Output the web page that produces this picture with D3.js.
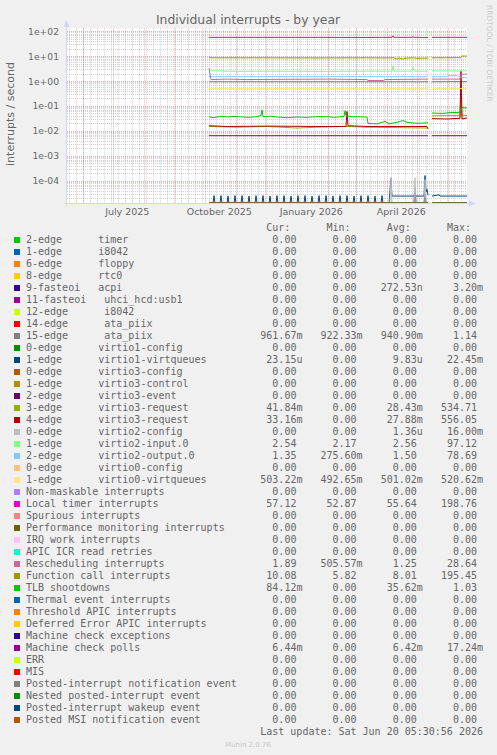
<!DOCTYPE html>
<html lang="en">
<head>
  <meta charset="UTF-8">
  <title>Individual interrupts - by year</title>
  <script src="https://d3js.org/d3.v7.min.js"></script>
  <style>
    body { margin: 0; background: #f0f0f0; }
    text { font-family: "DejaVu Sans", sans-serif; fill: #666; }
    .mono { font-family: "DejaVu Sans Mono", monospace; font-size: 10px; white-space: pre; }
  </style>
</head>
<body>
  <svg id="svg" width="497" height="755"></svg>
  <script>
    // time range (1 px per day, 400 days)
    var startDate = new Date(2025, 4, 16, 5, 30, 56)
    var endDate = new Date(2026, 5, 20, 5, 30, 56)

    var yTicks = [1e2, 1e1, 1e0, 1e-1, 1e-2, 1e-3, 1e-4]
    var yTickLabels = ['1e+02', '1e+01', '1e+00', '1e-01', '1e-02', '1e-03', '1e-04']
    var xLabelDates = ['2025-07-15', '2025-10-15', '2026-01-15', '2026-04-15']
    var xLabels = ['July 2025', 'October 2025', 'January 2026', 'April 2026']

    // legend
    var names = [
      '2-edge      timer', '1-edge      i8042', '6-edge      floppy', '8-edge      rtc0',
      '9-fasteoi   acpi', '11-fasteoi   uhci_hcd:usb1', '12-edge      i8042', '14-edge      ata_piix',
      '15-edge      ata_piix', '0-edge      virtio1-config', '1-edge      virtio1-virtqueues',
      '0-edge      virtio3-config', '1-edge      virtio3-control', '2-edge      virtio3-event',
      '3-edge      virtio3-request', '4-edge      virtio3-request', '0-edge      virtio2-config',
      '1-edge      virtio2-input.0', '2-edge      virtio2-output.0', '0-edge      virtio0-config',
      '1-edge      virtio0-virtqueues', 'Non-maskable interrupts', 'Local timer interrupts',
      'Spurious interrupts', 'Performance monitoring interrupts', 'IRQ work interrupts',
      'APIC ICR read retries', 'Rescheduling interrupts', 'Function call interrupts',
      'TLB shootdowns', 'Thermal event interrupts', 'Threshold APIC interrupts',
      'Deferred Error APIC interrupts', 'Machine check exceptions', 'Machine check polls',
      'ERR', 'MIS', 'Posted-interrupt notification event', 'Nested posted-interrupt event',
      'Posted-interrupt wakeup event', 'Posted MSI notification event'
    ]
    var colors = [
      '#00CC00', '#0066B3', '#FF8000', '#FFCC00', '#330099', '#990099', '#CCFF00', '#FF0000',
      '#808080', '#008F00', '#00487D', '#B35A00', '#B38F00', '#6B006B', '#8FB300', '#B30000',
      '#BEBEBE', '#80FF80', '#80C9FF', '#FFC080', '#FFE680', '#AA80FF', '#EE00CC', '#FF8080',
      '#666600', '#FFBFFF', '#00FFCC', '#CC6699', '#999900', '#00CC00', '#0066B3', '#FF8000',
      '#FFCC00', '#330099', '#990099', '#CCFF00', '#FF0000', '#808080', '#008F00', '#00487D',
      '#B35A00'
    ]
    var cur = ['0.00', '0.00', '0.00', '0.00', '0.00', '0.00', '0.00', '0.00', '961.67m', '0.00',
      '23.15u', '0.00', '0.00', '0.00', '41.84m', '33.16m', '0.00', '2.54', '1.35', '0.00',
      '503.22m', '0.00', '57.12', '0.00', '0.00', '0.00', '0.00', '1.89', '10.08', '84.12m',
      '0.00', '0.00', '0.00', '0.00', '6.44m', '0.00', '0.00', '0.00', '0.00', '0.00', '0.00']
    var min = ['0.00', '0.00', '0.00', '0.00', '0.00', '0.00', '0.00', '0.00', '922.33m', '0.00',
      '0.00', '0.00', '0.00', '0.00', '0.00', '0.00', '0.00', '2.17', '275.60m', '0.00',
      '492.65m', '0.00', '52.87', '0.00', '0.00', '0.00', '0.00', '505.57m', '5.82', '0.00',
      '0.00', '0.00', '0.00', '0.00', '0.00', '0.00', '0.00', '0.00', '0.00', '0.00', '0.00']
    var avg = ['0.00', '0.00', '0.00', '0.00', '272.53n', '0.00', '0.00', '0.00', '940.90m', '0.00',
      '9.83u', '0.00', '0.00', '0.00', '28.43m', '27.88m', '1.36u', '2.56', '1.50', '0.00',
      '501.02m', '0.00', '55.64', '0.00', '0.00', '0.00', '0.00', '1.25', '8.01', '35.62m',
      '0.00', '0.00', '0.00', '0.00', '6.42m', '0.00', '0.00', '0.00', '0.00', '0.00', '0.00']
    var max = ['0.00', '0.00', '0.00', '0.00', '3.20m', '0.00', '0.00', '0.00', '1.14', '0.00',
      '22.45m', '0.00', '0.00', '0.00', '534.71', '556.05', '16.00m', '97.12', '78.69', '0.00',
      '520.62m', '0.00', '198.76', '0.00', '0.00', '0.00', '0.00', '28.64', '195.45', '1.03',
      '0.00', '0.00', '0.00', '0.00', '17.24m', '0.00', '0.00', '0.00', '0.00', '0.00', '0.00']

    // series: [day since start, value], null = unknown (gap)
    var zeroPts = [[142, 0], [361, 0], null, [365, 0], [400, 0]]
    var localTimerPts = [[142, 57], [200, 57], [300, 56.5], [325, 57], [326, 66], [327, 57], [345, 57], [346, 61], [347, 57], [361, 56.5], null, [365, 57], [400, 57.1]]
    var funcCallPts = [[142, 9.3], [144, 8.6], [200, 8.6], [250, 8.5], [300, 8.6], [325, 8.5], [326, 9.0], [327, 8.4], [330, 7.7], [332, 8.4], [336, 7.6], [338, 8.3], [346, 8.6], [350, 8.2], [361, 8.4], null, [365, 8.6], [393, 8.7], [395, 10.2], [400, 10.1]]
    var inputPts = [[142, 3.3], [144, 2.6], [170, 2.45], [200, 2.5], [260, 2.45], [300, 2.5], [325, 2.5], [326, 4.2], [327, 2.5], [345, 2.5], [346, 3.6], [347, 2.5], [361, 2.5], null, [365, 2.55], [400, 2.54]]
    var outputPts = [[142, 1.5], [359, 1.5], [360, 1.65], [361, 1.55], null, [365, 1.5], [380, 1.5], [381, 1.65], [390, 1.65], [391, 1.5], [400, 1.35]]
    var reschedPts = [[142, 3.2], [144, 1.15], [160, 1.2], [180, 1.15], [220, 1.18], [260, 1.2], [300, 1.15], [301, 1.05], [316, 1.05], [318, 1.15], [361, 1.2], null, [365, 1.2], [393, 1.2], [394, 1.9], [400, 1.89]]
    var ata15Pts = [[142, 0.94], [361, 0.94], null, [365, 0.94], [400, 0.96]]
    var virtio0Pts = [[142, 0.5], [361, 0.5], null, [365, 0.5], [400, 0.503]]
    var tlbPts = [[142, 0.037], [146, 0.034], [150, 0.036], [155, 0.039], [160, 0.036], [167, 0.038], [175, 0.036], [182, 0.035], [190, 0.037], [194, 0.042], [195, 0.07], [196, 0.037], [203, 0.039], [210, 0.036], [220, 0.034], [230, 0.036], [240, 0.035], [250, 0.037], [260, 0.037], [268, 0.035], [277, 0.038], [278, 0.065], [279, 0.04], [285, 0.037], [300, 0.036], [301, 0.02], [310, 0.019], [318, 0.024], [322, 0.019], [330, 0.022], [336, 0.026], [340, 0.022], [350, 0.02], [361, 0.021], null, [365, 0.052], [375, 0.05], [385, 0.055], [392, 0.054], [395, 0.085], [400, 0.084]]
    var req4Pts = [[142, 0.016], [160, 0.015], [200, 0.0155], [250, 0.015], [279, 0.015], [280, 0.06], [281, 0.016], [300, 0.015], [330, 0.015], [360, 0.015], [361, 0.012], null, [365, 0.031], [380, 0.03], [393, 0.032], [394, 2.6], [395, 0.03], [400, 0.033]]
    var req3Pts = [[142, 0.015], [170, 0.014], [200, 0.015], [230, 0.013], [250, 0.014], [280, 0.015], [300, 0.014], [361, 0.013], null, [365, 0.04], [380, 0.041], [393, 0.042], [394, 0.9], [395, 0.04], [400, 0.042]]
    var mcPollPts = [[142, 0.0064], [361, 0.0064], null, [365, 0.0064], [400, 0.0064]]
    var virtio1Spikes = [[147, 2.5e-5], [154, 2.5e-5], [161, 2.4e-5], [168, 2.5e-5], [175, 2.5e-5], [182, 2.4e-5], [189, 2.5e-5], [196, 2.5e-5], [203, 2.4e-5], [210, 2.5e-5], [217, 2.5e-5], [224, 2.4e-5], [231, 2.5e-5], [238, 2.5e-5], [245, 2.4e-5], [252, 2.5e-5], [259, 2.5e-5], [266, 2.4e-5], [273, 2.5e-5], [280, 2.5e-5], [287, 2.4e-5], [294, 2.5e-5], [301, 2.5e-5], [308, 2.4e-5], [315, 2.5e-5]]
    var virtio1Tail = [[322, 0], [324, 1.2e-4], [325, 2.4e-5], [347, 2.4e-5], [348, 3e-5], [349, 2.4e-5], [357, 2.4e-5], [358, 1.6e-4], [359, 3.5e-5], [360, 4.5e-5], [361, 2.6e-5], null, [365, 2.4e-5], [372, 2.7e-5], [373, 2.4e-5], [400, 2.4e-5]]
    var v2cfgPts = [[142, 0], [323, 0], [324, 1.4e-4], [325, 0], [347, 0], [348, 1.3e-4], [349, 0], [357, 0], [358, 1.1e-4], [359, 0], [361, 0], null, [365, 0], [400, 0]]
    var acpiPts = [[142, 0], [347, 0], [348, 5e-5], [349, 0], [357, 0], [358, 3e-5], [359, 0], [361, 0], null, [365, 0], [400, 0]]

    var virtio1Pts = [[142, 0]]
    virtio1Spikes.forEach(function (s) {
      virtio1Pts.push([s[0] - 1, 0], s, [s[0] + 1, 0])
    })
    virtio1Pts = virtio1Pts.concat(virtio1Tail)

    var seriesPts = {
      4: acpiPts, 8: ata15Pts, 10: virtio1Pts, 14: req3Pts, 15: req4Pts, 16: v2cfgPts,
      17: inputPts, 18: outputPts, 20: virtio0Pts, 22: localTimerPts, 27: reschedPts,
      28: funcCallPts, 29: tlbPts, 34: mcPollPts
    }

    var plot = { left: 67, right: 467, top: 28.3, bottom: 203.3 }
    var svg = d3.select('#svg')

    var x = d3.scaleTime().domain([startDate, endDate]).range([plot.left, plot.right])
    var yMin = Math.pow(10, -4.91)
    var y = d3.scaleLog().domain([yMin, Math.pow(10, 2.12)]).range([plot.bottom, plot.top]).clamp(true)

    svg.append('rect').attr('width', 497).attr('height', 755).attr('fill', '#f0f0f0')
    svg.append('rect')
      .attr('x', plot.left).attr('y', plot.top)
      .attr('width', plot.right - plot.left).attr('height', plot.bottom - plot.top)
      .attr('fill', '#ffffff')

    // grid
    var minorColor = 'rgba(143,143,143,0.4)'
    var majorColor = 'rgba(222,79,79,0.45)'
    var grid = svg.append('g')
    var minorY = []
    for (var e = -5; e <= 2; e++) {
      for (var k = 2; k <= 9; k++) {
        var v = k * Math.pow(10, e)
        if (v > yMin && v < Math.pow(10, 2.12)) minorY.push(v)
      }
    }
    grid.selectAll('.ymin').data(minorY).enter().append('line')
      .attr('x1', plot.left).attr('x2', plot.right)
      .attr('y1', function (d) { return Math.round(y(d)) + 0.5 })
      .attr('y2', function (d) { return Math.round(y(d)) + 0.5 })
      .attr('stroke', minorColor).attr('stroke-dasharray', '1,1')
    var weeks = d3.timeSunday.range(startDate, endDate)
    grid.selectAll('.xmin').data(weeks).enter().append('line')
      .attr('x1', function (d) { return Math.round(x(d)) + 0.5 })
      .attr('x2', function (d) { return Math.round(x(d)) + 0.5 })
      .attr('y1', plot.top).attr('y2', plot.bottom)
      .attr('stroke', minorColor).attr('stroke-dasharray', '1,1')
    grid.selectAll('.ymaj').data(yTicks).enter().append('line')
      .attr('x1', plot.left).attr('x2', plot.right)
      .attr('y1', function (d) { return Math.round(y(d)) + 0.5 })
      .attr('y2', function (d) { return Math.round(y(d)) + 0.5 })
      .attr('stroke', majorColor).attr('stroke-dasharray', '1,1')
    var months = d3.timeMonth.range(startDate, endDate)
    grid.selectAll('.xmaj').data(months).enter().append('line')
      .attr('x1', function (d) { return Math.round(x(d)) + 0.5 })
      .attr('x2', function (d) { return Math.round(x(d)) + 0.5 })
      .attr('y1', plot.top).attr('y2', plot.bottom)
      .attr('stroke', majorColor).attr('stroke-dasharray', '1,1')

    // axes labels via d3 axes
    var yAxis = d3.axisLeft(y).tickValues(yTicks)
      .tickFormat(function (d, i) { return yTickLabels[i] }).tickSize(0).tickPadding(8)
    var gy = svg.append('g').attr('transform', 'translate(' + plot.left + ',0)').call(yAxis)
    gy.select('.domain').remove()
    gy.selectAll('text').attr('font-size', '9.2px').attr('fill', '#666')
      .style('font-family', '"DejaVu Sans", sans-serif')

    var parse = d3.timeParse('%Y-%m-%d')
    var xAxis = d3.axisBottom(x).tickValues(xLabelDates.map(parse))
      .tickFormat(function (d, i) { return xLabels[i] }).tickSize(0).tickPadding(5)
    var gx = svg.append('g').attr('transform', 'translate(0,' + plot.bottom + ')').call(xAxis)
    gx.select('.domain').remove()
    gx.selectAll('text').attr('font-size', '9.5px').attr('fill', '#666')
      .style('font-family', '"DejaVu Sans", sans-serif')

    // series lines
    var line = d3.line()
      .defined(function (d) { return d !== null })
      .x(function (d) { return x(new Date(startDate.getTime() + d[0] * 864e5)) })
      .y(function (d) { return y(d[1] <= 0 ? yMin : d[1]) })

    var lines = svg.append('g')
    names.forEach(function (n, i) {
      lines.append('path')
        .attr('d', line(seriesPts[i] || zeroPts))
        .attr('fill', 'none')
        .attr('stroke', colors[i])
        .attr('stroke-width', 1)
    })

    // axis lines with arrows
    var axisColor = '#CFD6F8'
    svg.append('line').attr('x1', plot.left - 0.5).attr('x2', plot.left - 0.5)
      .attr('y1', plot.bottom + 3).attr('y2', 24).attr('stroke', axisColor)
    svg.append('path').attr('d', 'M' + (plot.left - 3.5) + ',27 L' + (plot.left - 0.5) + ',20 L' + (plot.left + 2.5) + ',27 Z')
      .attr('fill', axisColor)
    svg.append('line').attr('x1', plot.left - 3).attr('x2', plot.right + 4)
      .attr('y1', plot.bottom + 0.2).attr('y2', plot.bottom + 0.2).attr('stroke', axisColor)
    svg.append('path').attr('d', 'M' + (plot.right + 2) + ',' + (plot.bottom - 2.8) + ' L' + (plot.right + 9) + ',' + (plot.bottom + 0.2) + ' L' + (plot.right + 2) + ',' + (plot.bottom + 3.2) + ' Z')
      .attr('fill', axisColor)

    // titles
    svg.append('text').attr('x', 248).attr('y', 24).attr('text-anchor', 'middle')
      .attr('font-size', '12.4px').text('Individual interrupts - by year')
    svg.append('text').attr('transform', 'translate(14,114) rotate(-90)').attr('text-anchor', 'middle')
      .attr('font-size', '11px').text('interrupts / second')
    svg.append('text').attr('transform', 'translate(486.5,5) rotate(90)')
      .attr('font-size', '7.5px').style('fill', '#cccccc').text('RRDTOOL / TOBI OETIKER')

    // legend
    var cw = 6.02
    var cols = [260.3, 320.5, 380.7, 440.9]
    var heads = ['Cur:', 'Min:', 'Avg:', 'Max:']
    var leg = svg.append('g')
    heads.forEach(function (h, j) {
      leg.append('text').attr('class', 'mono').attr('x', cols[j] + cw).attr('y', 231.3).text(h)
    })
    function pad(s) {
      return /[a-z]$/.test(s) ? s.padStart(7) : (s + ' ').padStart(7)
    }
    names.forEach(function (n, i) {
      var by = 243.3 + i * 12
      leg.append('rect').attr('x', 14).attr('y', by - 6.3).attr('width', 6).attr('height', 6)
        .attr('fill', colors[i])
      leg.append('text').attr('class', 'mono').attr('x', 26).attr('y', by).text(n)
      ;[cur, min, avg, max].forEach(function (arr, j) {
        leg.append('text').attr('class', 'mono').attr('x', cols[j]).attr('y', by).text(pad(arr[i]))
      })
    })
    leg.append('text').attr('class', 'mono').attr('x', 483).attr('y', 243.3 + 41 * 12)
      .attr('text-anchor', 'end').text('Last update: Sat Jun 20 05:30:56 2026')
    svg.append('text').attr('x', 248).attr('y', 746.5).attr('text-anchor', 'middle')
      .attr('font-size', '7px').style('fill', '#c8c8c8').text('Munin 2.0.76')
  </script>
</body>
</html>
